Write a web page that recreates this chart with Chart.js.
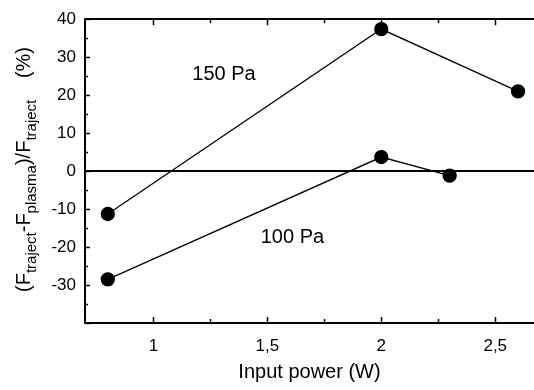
<!DOCTYPE html>
<html>
<head>
<meta charset="utf-8">
<script src="https://cdn.jsdelivr.net/npm/chart.js@4"></script>
<style>
  html, body { margin: 0; padding: 0; background: #fff; overflow: hidden; }
  #wrap { width: 534px; height: 390px; position: relative; }
</style>
</head>
<body>
<div id="wrap"><canvas id="myChart"></canvas></div>
<script>
// data
var power150 = [0.8, 2.0, 2.6];
var diff150 = [-11.3, 37.4, 21.0];
var power100 = [0.8, 2.0, 2.3];
var diff100 = [-28.5, 3.7, -1.2];

var xMajor = [1, 1.5, 2, 2.5];
var xMinor = [1.25, 1.75, 2.25];
var yMajor = [-40, -30, -20, -10, 0, 10, 20, 30, 40];
var yMinor = [-35, -25, -15, -5, 5, 15, 25, 35];

var FONT = "'Liberation Sans', Arial, Helvetica, sans-serif";

function toPoints(xs, ys) {
    return xs.map(function (x, i) { return { x: x, y: ys[i] }; });
}

// inward tick marks, zero line and the two labels
var extras = {
    id: 'extras',
    afterDraw: function (chart) {
        var ctx = chart.ctx;
        var a = chart.chartArea;
        var xs = chart.scales.x;
        var ys = chart.scales.y;
        ctx.save();
        ctx.strokeStyle = '#000';
        ctx.lineWidth = 2;

        // zero line
        var y0 = Math.round(ys.getPixelForValue(0));
        ctx.beginPath();
        ctx.moveTo(a.left, y0);
        ctx.lineTo(a.right, y0);
        ctx.stroke();

        ctx.lineWidth = 1.5;
        function xTick(v, len) {
            var px = Math.round(xs.getPixelForValue(v)) + 0.5;
            ctx.beginPath();
            ctx.moveTo(px, a.bottom);
            ctx.lineTo(px, a.bottom - len);
            ctx.moveTo(px, a.top);
            ctx.lineTo(px, a.top + len);
            ctx.stroke();
        }
        function yTick(v, len) {
            var py = Math.round(ys.getPixelForValue(v)) + 0.5;
            ctx.beginPath();
            ctx.moveTo(a.left, py);
            ctx.lineTo(a.left + len, py);
            ctx.stroke();
        }
        xMajor.forEach(function (v) { xTick(v, 6); });
        xMinor.forEach(function (v) { xTick(v, 4); });
        yMajor.forEach(function (v) { yTick(v, 5); });
        yMinor.forEach(function (v) { yTick(v, 3); });

        ctx.fillStyle = '#000';
        ctx.font = '20px ' + FONT;
        ctx.textAlign = 'center';
        ctx.textBaseline = 'middle';
        ctx.fillText('150 Pa', xs.getPixelForValue(1.31), ys.getPixelForValue(25.4));
        ctx.fillText('100 Pa', xs.getPixelForValue(1.61), ys.getPixelForValue(-17.5));

        // y title with subscripts, rotated
        var parts = [
            ['(F', false], ['traject', true], ['-F', false], ['plasma', true],
            [')/F', false], ['traject', true]
        ];
        ctx.translate(30, 292);
        ctx.rotate(-Math.PI / 2);
        ctx.textAlign = 'left';
        ctx.textBaseline = 'alphabetic';
        var pos = 0;
        parts.forEach(function (p) {
            ctx.font = (p[1] ? '15px ' : '20px ') + FONT;
            ctx.fillText(p[0], pos, p[1] ? 6 : 0);
            pos += ctx.measureText(p[0]).width;
        });
        ctx.font = '20px ' + FONT;
        ctx.textAlign = 'right';
        ctx.fillText('(%)', 292 - 47, 0);
        ctx.restore();
    }
};

var ctx = document.getElementById('myChart').getContext('2d');
var myChart = new Chart(ctx, {
    type: 'scatter',
    data: {
        datasets: [{
            label: '150 Pa',
            data: toPoints(power150, diff150),
            showLine: true,
            borderColor: '#000',
            borderWidth: 1.3,
            backgroundColor: '#000',
            pointRadius: 6.5,
            pointHoverRadius: 6.5
        }, {
            label: '100 Pa',
            data: toPoints(power100, diff100),
            showLine: true,
            borderColor: '#000',
            borderWidth: 1.3,
            backgroundColor: '#000',
            pointRadius: 6.5,
            pointHoverRadius: 6.5
        }]
    },
    options: {
        responsive: true,
        maintainAspectRatio: false,
        animation: false,
        events: [],
        layout: { autoPadding: false, padding: { left: 0, right: 0, top: 19, bottom: 0 } },
        plugins: {
            legend: { display: false },
            tooltip: { enabled: false }
        },
        scales: {
            x: {
                type: 'linear',
                position: 'bottom',
                min: 0.7,
                max: 2.67,
                border: { display: true, color: '#000', width: 2 },
                grid: { display: false, drawTicks: false },
                afterBuildTicks: function (s) {
                    s.ticks = xMajor.map(function (v) { return { value: v }; });
                },
                afterFit: function (s) {
                    s.height = 67;
                    s.paddingLeft = 0;
                    s.paddingRight = 0;
                },
                ticks: {
                    color: '#000',
                    font: { family: FONT, size: 17 },
                    padding: 13,
                    maxRotation: 0,
                    autoSkip: false,
                    callback: function (v) { return String(v).replace('.', ','); }
                },
                title: {
                    display: true,
                    text: 'Input power (W)',
                    color: '#000',
                    font: { family: FONT, size: 20 },
                    padding: { top: 0, bottom: 6 }
                }
            },
            x2: {
                type: 'linear',
                position: 'top',
                min: 0.7,
                max: 2.67,
                border: { display: true, color: '#000', width: 2 },
                grid: { display: false, drawTicks: false },
                ticks: { display: false },
                afterFit: function (s) {
                    s.height = 0;
                    s.paddingLeft = 0;
                    s.paddingRight = 0;
                }
            },
            y: {
                min: -40,
                max: 40,
                border: { display: true, color: '#000', width: 2 },
                grid: { display: false, drawTicks: false },
                afterBuildTicks: function (s) {
                    s.ticks = yMajor.map(function (v) { return { value: v }; });
                },
                afterFit: function (s) { s.width = 85; },
                ticks: {
                    color: '#000',
                    font: { family: FONT, size: 17 },
                    padding: 9,
                    autoSkip: false,
                    callback: function (v) { return v === -40 ? '' : v; }
                }
            }
        }
    },
    plugins: [extras]
});
</script>
</body>
</html>
